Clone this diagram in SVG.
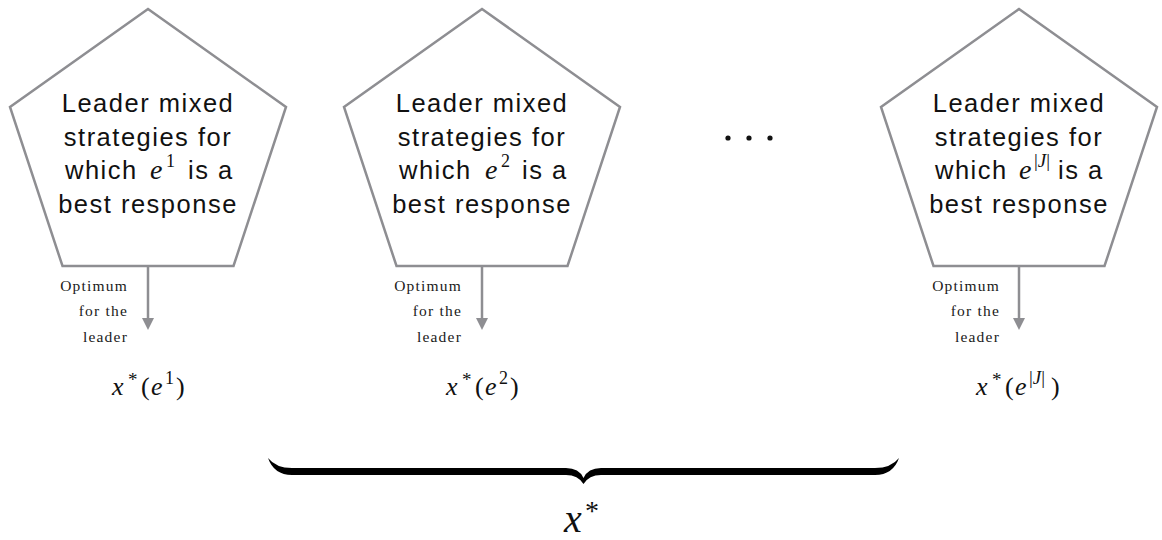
<svg xmlns="http://www.w3.org/2000/svg" width="1162" height="540" viewBox="0 0 1162 540">
<style>
.pent{fill:#fff;stroke:#8e8e92;stroke-width:2.5;stroke-linejoin:miter}
.lbl{font-family:"Liberation Sans",Arial,sans-serif;font-size:25.5px;letter-spacing:1.5px;fill:#111;text-anchor:middle}
.lbs{font-family:"Liberation Sans",Arial,sans-serif;font-size:25.5px;letter-spacing:1.5px;fill:#111;text-anchor:start}
.mi{font-family:"Liberation Serif","Times New Roman",serif;font-style:italic;fill:#111}
.mr{font-family:"Liberation Serif","Times New Roman",serif;font-style:normal;fill:#111}
.sm{font-family:"Liberation Serif","Times New Roman",serif;font-size:15.5px;letter-spacing:1.2px;fill:#1a1a1a;text-anchor:end}
.conn{stroke:#8e8e92;stroke-width:2.5;fill:none}
.head{fill:#8e8e92;stroke:none}
</style>

<g id="node1">
<polygon class="pent" points="148,9 286,107 233.5,266 62.5,266 10,107"/>
<text class="lbl" x="148" y="112">Leader mixed</text>
<text class="lbl" x="148" y="146">strategies for</text>
<text class="lbs" x="65" y="179">which</text>
<text class="mi" x="150" y="179" font-size="28">e</text>
<text class="mr" x="166" y="167" font-size="18">1</text>
<text class="lbs" x="188" y="179">is a</text>
<text class="lbl" x="148" y="213">best response</text>
<text class="sm"><tspan x="128" y="291">Optimum</tspan><tspan x="128" y="316">for the</tspan><tspan x="128" y="342">leader</tspan></text>
</g>

<g id="node2">
<polygon class="pent" points="482,9 620,107 567.5,266 396.5,266 344,107"/>
<text class="lbl" x="482" y="112">Leader mixed</text>
<text class="lbl" x="482" y="146">strategies for</text>
<text class="lbs" x="399" y="179">which</text>
<text class="mi" x="485" y="179" font-size="28">e</text>
<text class="mr" x="501" y="167" font-size="18">2</text>
<text class="lbs" x="522" y="179">is a</text>
<text class="lbl" x="482" y="213">best response</text>
<text class="sm"><tspan x="462" y="291">Optimum</tspan><tspan x="462" y="316">for the</tspan><tspan x="462" y="342">leader</tspan></text>
</g>

<g id="node3">
<polygon class="pent" points="1019,9 1157,107 1104.5,266 933.5,266 881,107"/>
<text class="lbl" x="1019" y="112">Leader mixed</text>
<text class="lbl" x="1019" y="146">strategies for</text>
<text class="lbs" x="935" y="179">which</text>
<text class="mi" x="1019" y="179" font-size="28">e</text>
<text class="mr" x="1034" y="167" font-size="19" fill="#111">|<tspan font-style="italic">J</tspan>|</text>
<text class="lbs" x="1058" y="179">is a</text>
<text class="lbl" x="1019" y="213">best response</text>
<text class="sm"><tspan x="1000" y="291">Optimum</tspan><tspan x="1000" y="316">for the</tspan><tspan x="1000" y="342">leader</tspan></text>
</g>

<g id="dots" fill="#111">
<circle cx="728" cy="138" r="2.6"/>
<circle cx="749" cy="138" r="2.6"/>
<circle cx="770" cy="138" r="2.6"/>
</g>

<g id="result1">
<text class="mi" x="112" y="395" font-size="26">x</text>
<text class="mr" x="128" y="386" font-size="19">*</text>
<text class="mr" x="141" y="395" font-size="26">(</text>
<text class="mi" x="151" y="395" font-size="26">e</text>
<text class="mr" x="165" y="384" font-size="18">1</text>
<text class="mr" x="176" y="395" font-size="26">)</text>
</g>

<g id="result2">
<text class="mi" x="446" y="395" font-size="26">x</text>
<text class="mr" x="462" y="386" font-size="19">*</text>
<text class="mr" x="475" y="395" font-size="26">(</text>
<text class="mi" x="485" y="395" font-size="26">e</text>
<text class="mr" x="499" y="384" font-size="18">2</text>
<text class="mr" x="510" y="395" font-size="26">)</text>
</g>

<g id="result3">
<text class="mi" x="976" y="395" font-size="26">x</text>
<text class="mr" x="992" y="386" font-size="19">*</text>
<text class="mr" x="1005" y="395" font-size="26">(</text>
<text class="mi" x="1015" y="395" font-size="26">e</text>
<text class="mr" x="1029" y="384" font-size="19" fill="#111">|<tspan font-style="italic">J</tspan>|</text>
<text class="mr" x="1051" y="395" font-size="26">)</text>
</g>

<g id="brace">
<path d="M268,458 Q276,468 292,468 L566,468 Q579,468 583.5,478 Q588,468 601,468 L875,468 Q891,468 899,458 Q893,475 875,475 L601,475 Q589,475 583.5,484 Q578,475 566,475 L292,475 Q274,475 268,458 Z" fill="#000"/>
</g>

<g id="total">
<text class="mi" x="564" y="532" font-size="40">x</text>
<text class="mr" x="585" y="520" font-size="28">*</text>
</g>

<g id="connectors">
<line class="conn" x1="148" y1="266" x2="148" y2="319"/>
<polygon class="head" points="142,318 154,318 148,330"/>
<line class="conn" x1="482" y1="266" x2="482" y2="319"/>
<polygon class="head" points="476,318 488,318 482,330"/>
<line class="conn" x1="1019" y1="266" x2="1019" y2="319"/>
<polygon class="head" points="1013,318 1025,318 1019,330"/>
</g>
</svg>
